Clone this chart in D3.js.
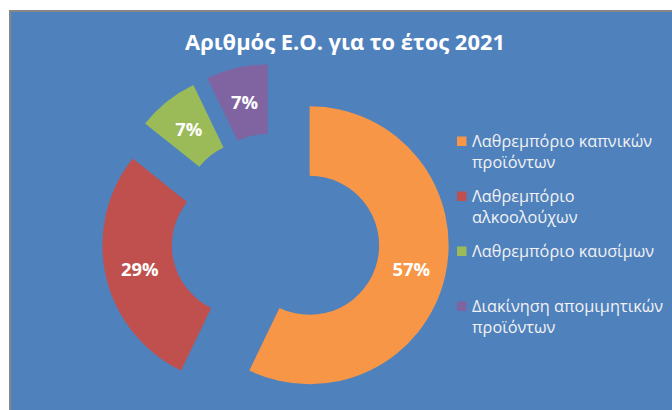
<!DOCTYPE html>
<html>
<head>
<meta charset="utf-8">
<script src="https://cdn.jsdelivr.net/npm/d3@7"></script>
<style>
  body { margin: 0; background: #ffffff; }
  svg { display: block; }
</style>
</head>
<body>
<div id="chart"></div>
<script>
const chartTitle = "Αριθμός Ε.Ο. για το έτος 2021"
const categories = [
    "Λαθρεμπόριο καπνικών προϊόντων",
    "Λαθρεμπόριο αλκοολούχων",
    "Λαθρεμπόριο καυσίμων",
    "Διακίνηση απομιμητικών προϊόντων"
]
const values = [8, 4, 1, 1]
const colors = ["#F79646", "#C0504D", "#9BBB59", "#8064A2"]

function drawChart() {
    const width = 672
    const height = 410
    const fontFamily = "'Open Sans', 'Noto Sans', sans-serif"

    const svg = d3.select("#chart").append("svg")
        .attr("width", width)
        .attr("height", height)

    // chart area (blue box, runs past the window on the right and bottom)
    svg.append("rect")
        .attr("x", 10)
        .attr("y", 11)
        .attr("width", 720)
        .attr("height", 460)
        .attr("fill", "#4F81BD")
        .attr("stroke", "#878787")
        .attr("stroke-width", 2)

    svg.append("text")
        .attr("x", 345)
        .attr("y", 50)
        .attr("text-anchor", "middle")
        .attr("fill", "#ffffff")
        .style("font-family", fontFamily)
        .style("font-weight", "bold")
        .style("font-size", "21.9px")
        .text(chartTitle)

    // donut
    const center = {x: 275.5, y: 237.5}
    const outerRadius = 139
    const innerRadius = outerRadius * 0.5
    const explode = 35

    const total = d3.sum(values)
    const pie = d3.pie().sort(null).value(d => d.value)
    const arcs = pie(values.map((v, i) => ({value: v, name: categories[i], color: colors[i]})))

    const arc = d3.arc()
        .innerRadius(innerRadius)
        .outerRadius(outerRadius)

    const donut = svg.append("g")
        .attr("transform", `translate(${center.x}, ${center.y})`)

    const slices = donut.selectAll(".slice")
        .data(arcs)
        .join("g")
            .attr("class", "slice")
            .attr("transform", d => {
                const a = (d.startAngle + d.endAngle) / 2
                return `translate(${explode * Math.sin(a)}, ${-explode * Math.cos(a)})`
            })

    slices.append("path")
        .attr("d", arc)
        .attr("fill", d => d.data.color)

    slices.append("text")
        .attr("transform", d => `translate(${arc.centroid(d)})`)
        .attr("dy", "0.42em")
        .attr("text-anchor", "middle")
        .attr("fill", "#ffffff")
        .style("font-family", fontFamily)
        .style("font-weight", "bold")
        .style("font-size", "18.4px")
        .text(d => Math.round(d.data.value / total * 100) + "%")

    // legend
    const legend = svg.append("g")
        .attr("transform", "translate(457, 147)")
    const slot = 55
    const lineHeight = 21.3
    const maxWidth = 200

    const items = legend.selectAll(".legend-item")
        .data(arcs)
        .join("g")
            .attr("class", "legend-item")
            .attr("transform", (d, i) => `translate(0, ${i * slot})`)

    items.append("rect")
        .attr("x", 0)
        .attr("y", -10.5)
        .attr("width", 9.5)
        .attr("height", 9.5)
        .attr("fill", d => d.data.color)

    items.append("text")
        .attr("x", 15)
        .attr("fill", "#f2f2f2")
        .style("font-family", fontFamily)
        .style("font-size", "16.3px")
        .each(function (d) {
            const text = d3.select(this)
            const words = d.data.name.split(" ")
            let line = []
            let lineNo = 0
            let tspan = text.append("tspan").attr("x", 15).attr("y", 0)
            words.forEach(w => {
                line.push(w)
                tspan.text(line.join(" "))
                if (tspan.node().getComputedTextLength() > maxWidth && line.length > 1) {
                    line.pop()
                    tspan.text(line.join(" "))
                    line = [w]
                    lineNo += 1
                    tspan = text.append("tspan")
                        .attr("x", 15)
                        .attr("y", lineNo * lineHeight)
                        .text(w)
                }
            })
        })
}

drawChart()
</script>
</body>
</html>
